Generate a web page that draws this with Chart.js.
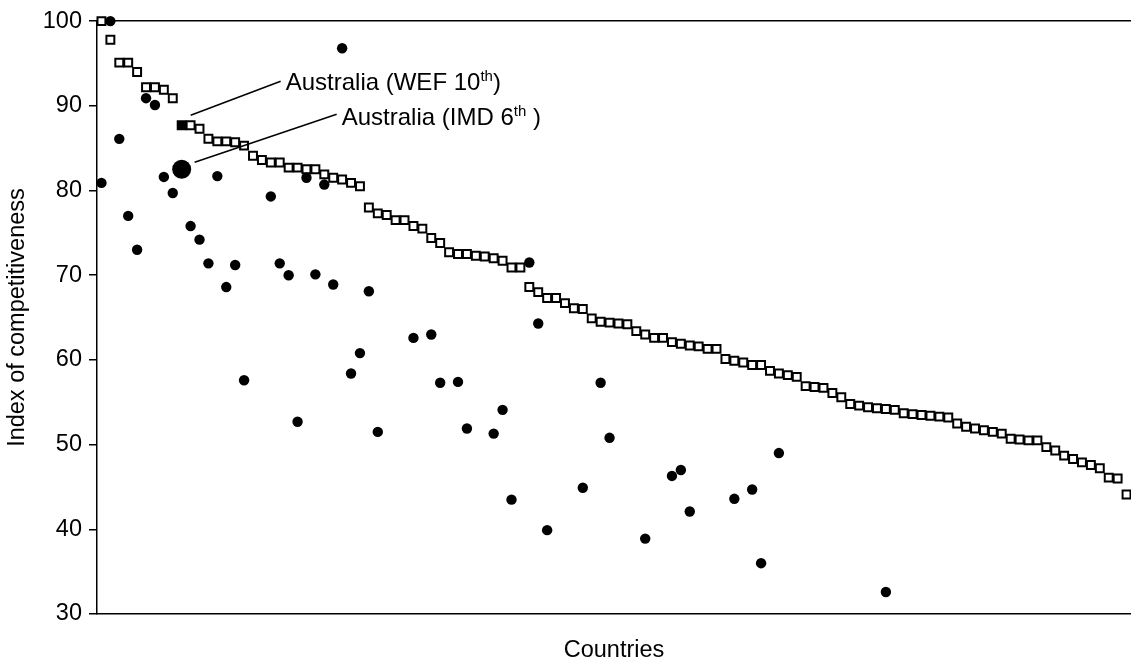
<!DOCTYPE html>
<html>
<head>
<meta charset="utf-8">
<script src="https://cdn.jsdelivr.net/npm/chart.js@4.4.1/dist/chart.umd.min.js"></script>
<style>
  html, body { margin: 0; padding: 0; background: #fff; overflow: hidden; }
  canvas { display: block; }
</style>
</head>
<body>
<canvas id="chart" width="1131" height="665"></canvas>
<script>
// WEF index, one value per country in WEF rank order (rank 1 .. 116)
const wefScores = [
  100.0, 97.8, 95.1, 95.1, 94.0, 92.2, 92.2, 91.9, 90.9, 87.7,
  87.7, 87.3, 86.1, 85.8, 85.8, 85.7, 85.3, 84.1, 83.6, 83.3,
  83.3, 82.7, 82.7, 82.5, 82.5, 81.9, 81.5, 81.3, 80.9, 80.5,
  78.0, 77.3, 77.1, 76.5, 76.5, 75.8, 75.5, 74.4, 73.8, 72.7,
  72.5, 72.5, 72.3, 72.2, 72.0, 71.7, 70.9, 70.9, 68.6, 68.0,
  67.3, 67.3, 66.7, 66.1, 66.0, 64.9, 64.5, 64.4, 64.3, 64.2,
  63.4, 63.0, 62.6, 62.6, 62.1, 61.9, 61.7, 61.6, 61.3, 61.3,
  60.1, 59.9, 59.7, 59.4, 59.4, 58.7, 58.4, 58.2, 58.0, 56.9,
  56.8, 56.7, 56.1, 55.6, 54.8, 54.6, 54.4, 54.3, 54.2, 54.1,
  53.7, 53.6, 53.5, 53.4, 53.3, 53.2, 52.5, 52.1, 51.9, 51.7,
  51.5, 51.3, 50.7, 50.6, 50.5, 50.5, 49.7, 49.3, 48.7, 48.3,
  47.9, 47.6, 47.2, 46.1, 46.0, 44.1
];

// IMD index, plotted at the same country's WEF rank
const imdRanks = [
  1, 2, 3, 4, 5, 6, 7, 8, 9, 11, 12, 13, 14, 15, 16, 17,
  20, 21, 22, 23, 24, 25, 26, 27, 28, 29, 30, 31, 32,
  36, 38, 39, 41, 42, 45, 46, 47, 49, 50, 51,
  55, 57, 58, 62, 65, 66, 67, 72, 74, 75, 77, 89
];
const imdScores = [
  80.9, 100.0, 86.1, 77.0, 73.0, 90.9, 90.1, 81.6, 79.7, 75.8, 74.2, 71.4, 81.7, 68.6, 71.2, 57.6,
  79.3, 71.4, 70.0, 52.7, 81.5, 70.1, 80.7, 68.9, 96.8, 58.4, 60.8, 68.1, 51.5,
  62.6, 63.0, 57.3, 57.4, 51.9, 51.3, 54.1, 43.5, 71.5, 64.3, 39.9,
  44.9, 57.3, 50.8, 38.9, 46.3, 47.0, 42.1, 43.6, 44.7, 36.0, 49.0, 32.6
];

// Australia
const ausRank = 10;
const ausWef = 87.7;
const ausImd = 82.5;

const yMin = 30;
const yMax = 100;
const yStep = 10;

const FONT = 'Arial, "Liberation Sans", sans-serif';
const AXIS_FONT = { family: FONT, size: 23.5 };

const wefPoints = wefScores.map((v, i) => ({ x: i + 1, y: v }));
const imdPoints = imdRanks.map((r, i) => ({ x: r, y: imdScores[i] }));

// labels with superscript "th", drawn at the end of leader lines
const callouts = [
  { dataset: 1, pre: 'Australia (WEF 10', sup: 'th', post: ')', from: [9, -10], to: [99, -44], base: 8.5 },
  { dataset: 0, pre: 'Australia (IMD 6', sup: 'th', post: ' )', from: [13, -7], to: [155, -55], base: 11 }
];

const calloutPlugin = {
  id: 'callouts',
  afterDatasetsDraw(chart) {
    const ctx = chart.ctx;
    ctx.save();
    callouts.forEach(c => {
      const pt = chart.getDatasetMeta(c.dataset).data[0];
      const x1 = pt.x + c.from[0], y1 = pt.y + c.from[1];
      const x2 = pt.x + c.to[0], y2 = pt.y + c.to[1];
      ctx.strokeStyle = '#000';
      ctx.lineWidth = 1.5;
      ctx.beginPath();
      ctx.moveTo(x1, y1);
      ctx.lineTo(x2, y2);
      ctx.stroke();

      let tx = x2 + 5;
      const ty = y2 + c.base;
      ctx.fillStyle = '#000';
      ctx.textBaseline = 'alphabetic';
      ctx.textAlign = 'left';
      ctx.font = '24px ' + FONT;
      ctx.fillText(c.pre, tx, ty);
      tx += ctx.measureText(c.pre).width;
      ctx.font = '15px ' + FONT;
      ctx.fillText(c.sup, tx, ty - 9);
      tx += ctx.measureText(c.sup).width;
      ctx.font = '24px ' + FONT;
      ctx.fillText(c.post, tx, ty);
    });
    ctx.restore();
  }
};

new Chart(document.getElementById('chart'), {
  type: 'scatter',
  data: {
    datasets: [
      {
        label: 'Australia IMD',
        data: [{ x: ausRank, y: ausImd }],
        pointStyle: 'circle',
        pointRadius: 9.5,
        backgroundColor: '#000',
        borderColor: '#000',
        borderWidth: 0,
        clip: false,
        order: 0
      },
      {
        label: 'Australia WEF',
        data: [{ x: ausRank, y: ausWef }],
        pointStyle: 'rect',
        pointRadius: 5.6,
        backgroundColor: '#000',
        borderColor: '#000',
        borderWidth: 2,
        clip: false,
        order: 1
      },
      {
        label: 'IMD',
        data: imdPoints,
        pointStyle: 'circle',
        pointRadius: 5.2,
        backgroundColor: '#000',
        borderColor: '#000',
        borderWidth: 0,
        clip: false,
        order: 2
      },
      {
        label: 'WEF',
        data: wefPoints.filter(p => p.x !== ausRank),
        pointStyle: 'rect',
        pointRadius: 5.6,
        backgroundColor: '#fff',
        borderColor: '#000',
        borderWidth: 2,
        clip: false,
        order: 3
      }
    ]
  },
  options: {
    responsive: false,
    animation: false,
    events: [],
    layout: { autoPadding: false, padding: { top: 21, right: 0, left: 0, bottom: 0 } },
    plugins: {
      legend: { display: false },
      tooltip: { enabled: false }
    },
    scales: {
      x: {
        type: 'linear',
        min: 0.5,
        max: wefScores.length + 0.5,
        ticks: { display: false },
        grid: { display: false, drawTicks: false },
        border: { color: '#000', width: 1.5 },
        title: {
          display: true,
          text: 'Countries',
          color: '#000',
          font: AXIS_FONT,
          padding: { top: 0, bottom: 0 }
        },
        afterFit(scale) { scale.height = 51; }
      },
      y: {
        min: yMin,
        max: yMax,
        ticks: {
          stepSize: yStep,
          color: '#000',
          padding: 7,
          font: AXIS_FONT
        },
        grid: {
          color: ctx => (ctx.tick && ctx.tick.value === yMax ? '#000' : 'rgba(0,0,0,0)'),
          tickColor: '#000',
          tickLength: 8,
          lineWidth: 1.5
        },
        border: { color: '#000', width: 1.5 },
        title: {
          display: true,
          text: 'Index of competitiveness',
          color: '#000',
          font: AXIS_FONT,
          padding: { top: 3, bottom: 0 }
        },
        afterFit(scale) { scale.width = 97; }
      }
    }
  },
  plugins: [calloutPlugin]
});
</script>
</body>
</html>
